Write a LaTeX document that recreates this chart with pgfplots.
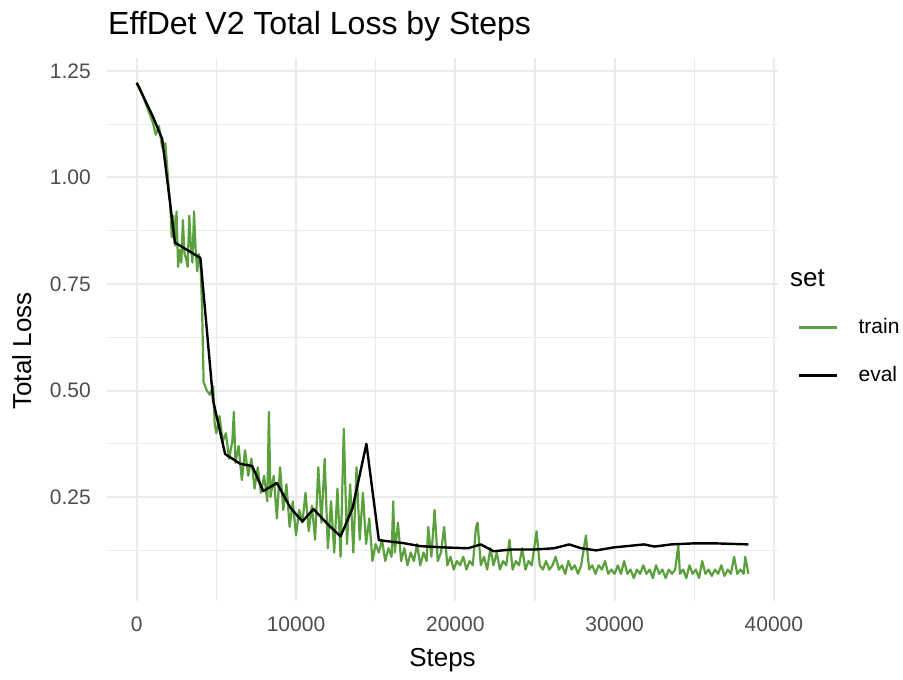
\documentclass[border=0pt]{standalone}
\usepackage{fontspec}
\setmainfont{Liberation Sans}
\usepackage{pgfplots}
\pgfplotsset{compat=1.18}
\definecolor{traingreen}{RGB}{90,160,60}
\definecolor{gridgray}{RGB}{235,235,235}
\definecolor{ticktext}{RGB}{77,77,77}

\begin{document}
\begin{tikzpicture}[x=1pt,y=1pt]
\path (0,0) rectangle (903,680);
\begin{axis}[
    at={(107pt,79.3pt)}, anchor=south west,
    scale only axis,
    width=671pt, height=542.7pt,
    xmin=-1864, xmax=40257,
    ymin=0.007, ymax=1.28,
    scaled x ticks=false, scaled y ticks=false,
    xtick={0,10000,20000,30000,40000},
    xticklabels={0,10000,20000,30000,40000},
    ytick={0.25,0.5,0.75,1,1.25},
    yticklabels={0.25,0.50,0.75,1.00,1.25},
    minor xtick={5000,15000,25000,35000},
    minor ytick={0.125,0.375,0.625,0.875,1.125},
    grid=both,
    major grid style={draw=gridgray, line width=2pt},
    minor grid style={draw=gridgray, line width=1.1pt},
    axis line style={draw=none},
    tick style={draw=none},
    /pgf/number format/assume math mode=true,
    xticklabel style={font=\fontsize{21}{25}\selectfont, text=ticktext, inner sep=0pt, anchor=north, yshift=-16pt},
    yticklabel style={font=\fontsize{21}{25}\selectfont, text=ticktext, inner sep=0pt, anchor=east, xshift=-16pt},
    legend style={at={(1.0253,0.5246)}, anchor=north west, draw=none, fill=none,
        font=\fontsize{21}{25}\selectfont, row sep=29pt, column sep=20pt,
        nodes={inner sep=0pt, text height=15pt, text depth=4pt}},
    legend cell align=left,
    legend image code/.code={\draw[#1, line width=2.4pt] (0pt,0pt) -- (38pt,0pt);},
]
% train loss
\addplot[traingreen, line width=2.2pt, line join=round] coordinates {
(0,1.22) (200,1.21) (400,1.19) (600,1.17) (800,1.15) (1000,1.13) (1200,1.10) (1400,1.12)
(1600,1.07) (1800,1.08) (2000,0.98) (2100,0.94) (2200,0.86) (2300,0.91) (2400,0.84) (2500,0.92)
(2600,0.79) (2700,0.83) (2800,0.80) (2900,0.90) (3000,0.82) (3100,0.81) (3200,0.79) (3300,0.91)
(3400,0.84) (3500,0.80) (3600,0.92) (3700,0.83) (3800,0.78) (3900,0.82) (4000,0.80) (4100,0.70)
(4200,0.52) (4300,0.51) (4400,0.50) (4600,0.49) (4800,0.51) (4900,0.42) (5000,0.40) (5200,0.44)
(5400,0.38) (5600,0.40) (5800,0.34) (6000,0.38) (6100,0.45) (6200,0.33) (6400,0.37) (6600,0.29)
(6800,0.36) (7000,0.30) (7200,0.34) (7400,0.27) (7600,0.32) (7800,0.26) (8000,0.30) (8200,0.24)
(8300,0.45) (8400,0.25) (8600,0.30) (8800,0.20) (9000,0.32) (9200,0.22) (9400,0.28) (9600,0.18)
(9800,0.24) (10000,0.16) (10200,0.22) (10400,0.19) (10600,0.26) (10800,0.17) (11000,0.23) (11200,0.15)
(11400,0.32) (11600,0.19) (11800,0.34) (12000,0.13) (12200,0.24) (12400,0.12) (12600,0.27) (12800,0.11)
(13000,0.41) (13200,0.14) (13400,0.28) (13600,0.12) (13800,0.32) (14000,0.15) (14200,0.26) (14400,0.14)
(14600,0.20) (14800,0.10) (15000,0.14) (15200,0.12) (15400,0.15) (15600,0.10) (15800,0.13) (16000,0.11)
(16100,0.24) (16200,0.12) (16400,0.19) (16600,0.10) (16800,0.13) (17000,0.09) (17200,0.12) (17400,0.10)
(17600,0.14) (17800,0.09) (18000,0.12) (18200,0.10) (18300,0.18) (18500,0.11) (18700,0.22) (18900,0.10)
(19100,0.12) (19300,0.18) (19500,0.09) (19700,0.11) (19900,0.08) (20100,0.10) (20300,0.09) (20500,0.11)
(20700,0.08) (20900,0.10) (21100,0.09) (21300,0.18) (21400,0.19) (21600,0.09) (21800,0.11) (22000,0.08)
(22200,0.13) (22400,0.09) (22600,0.12) (22800,0.08) (23000,0.10) (23200,0.09) (23400,0.15) (23600,0.08)
(23800,0.10) (24000,0.09) (24200,0.13) (24400,0.08) (24600,0.10) (24800,0.09) (25100,0.17) (25300,0.09)
(25500,0.08) (25700,0.10) (25900,0.08) (26100,0.09) (26300,0.11) (26500,0.08) (26700,0.09) (26900,0.07)
(27100,0.10) (27300,0.08) (27500,0.09) (27700,0.07) (27900,0.09) (28200,0.16) (28400,0.08) (28600,0.09)
(28800,0.07) (29000,0.09) (29200,0.08) (29400,0.10) (29600,0.07) (29800,0.08) (30000,0.07) (30200,0.09)
(30400,0.07) (30600,0.10) (30800,0.07) (31000,0.08) (31200,0.06) (31400,0.08) (31600,0.07) (31800,0.09)
(32000,0.07) (32200,0.08) (32400,0.06) (32600,0.09) (32800,0.07) (33000,0.08) (33200,0.06) (33400,0.08)
(33600,0.07) (33800,0.08) (34000,0.137) (34100,0.07) (34300,0.08) (34500,0.06) (34700,0.09) (34900,0.07)
(35100,0.08) (35300,0.06) (35500,0.10) (35700,0.07) (35900,0.08) (36100,0.065) (36300,0.08) (36500,0.07)
(36700,0.09) (36900,0.065) (37100,0.08) (37300,0.07) (37500,0.11) (37700,0.07) (37900,0.08) (38100,0.07)
(38200,0.11) (38400,0.07)
};
\addlegendentry{train}
% eval loss
\addplot[black, line width=2.4pt, line join=round] coordinates {
(0,1.222) (1000,1.144) (1600,1.09) (2400,0.847) (4000,0.811) (4800,0.476) (5550,0.351) (6500,0.328)
(7250,0.323) (7950,0.264) (8800,0.283) (9650,0.225) (10400,0.193) (11100,0.222) (12000,0.186) (12800,0.158)
(13550,0.224) (14420,0.375) (15200,0.149) (16750,0.142) (17800,0.135) (19270,0.132) (20800,0.130) (21600,0.139)
(22400,0.123) (23500,0.127) (24950,0.127) (26200,0.130) (27150,0.139) (27900,0.130) (28850,0.125) (29950,0.132)
(31850,0.139) (32500,0.134) (33550,0.139) (35000,0.1415) (36300,0.1415) (38400,0.139)
};
\addlegendentry{eval}
\end{axis}
\node[anchor=base west, inner sep=0pt, font=\fontsize{32}{38}\selectfont] at (108,645) {EffDet V2 Total Loss by Steps};
\node[anchor=base, inner sep=0pt, font=\fontsize{26}{31}\selectfont] at (442.5,13) {Steps};
\node[rotate=90, anchor=base, inner sep=0pt, font=\fontsize{26}{31}\selectfont] at (31,329) {Total Loss};
\node[anchor=base west, inner sep=0pt, font=\fontsize{26}{31}\selectfont] at (790,393) {set};
\end{tikzpicture}
\end{document}
